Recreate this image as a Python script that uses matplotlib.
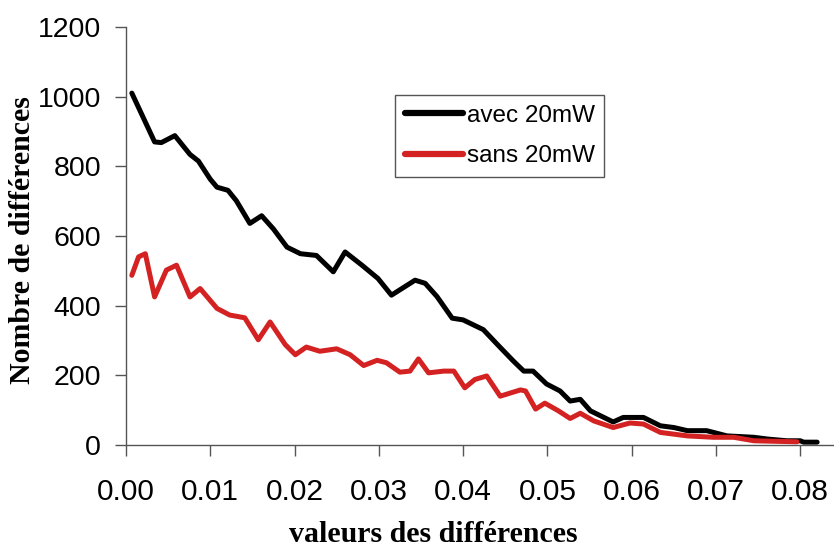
import matplotlib
matplotlib.use("Agg")
import matplotlib.pyplot as plt

# black curve: avec 20mW
x_avec = [0.0007, 0.0034, 0.0042, 0.0058, 0.0076, 0.0086, 0.0100, 0.0108, 0.0121, 0.0131,
          0.0147, 0.0161, 0.0175, 0.0191, 0.0207, 0.0226, 0.0246, 0.0260, 0.0280, 0.0299,
          0.0315, 0.0343, 0.0355, 0.0369, 0.0387, 0.0400, 0.0424, 0.0444, 0.0460, 0.0472,
          0.0483, 0.0499, 0.0515, 0.0527, 0.0539, 0.0551, 0.0567, 0.0578, 0.0590, 0.0614,
          0.0634, 0.0650, 0.0666, 0.0689, 0.0713, 0.0745, 0.0761, 0.0784, 0.0800, 0.0804,
          0.0820]
y_avec = [1010, 870, 868, 888, 834, 815, 763, 740, 731, 701,
          636, 658, 620, 568, 549, 544, 497, 554, 516, 478,
          430, 473, 464, 426, 364, 359, 331, 280, 240, 212,
          212, 175, 155, 126, 131, 98, 79, 66, 79, 79,
          55, 50, 41, 41, 26, 22, 17, 12, 12, 8,
          8]

# red curve: sans 20mW
x_sans = [0.0007, 0.0015, 0.0023, 0.0034, 0.0048, 0.0060, 0.0076, 0.0088, 0.0108, 0.0123,
          0.0141, 0.0157, 0.0171, 0.0189, 0.0201, 0.0214, 0.0230, 0.0250, 0.0266, 0.0282,
          0.0298, 0.0309, 0.0325, 0.0337, 0.0347, 0.0359, 0.0377, 0.0389, 0.0402, 0.0414,
          0.0428, 0.0444, 0.0468, 0.0474, 0.0486, 0.0497, 0.0513, 0.0527, 0.0539, 0.0555,
          0.0578, 0.0598, 0.0614, 0.0634, 0.0666, 0.0697, 0.0721, 0.0745, 0.0796]
y_sans = [487, 540, 549, 425, 502, 516, 425, 449, 392, 373,
          365, 302, 353, 288, 259, 281, 269, 276, 259, 228,
          243, 236, 209, 212, 247, 207, 212, 212, 164, 188,
          198, 140, 158, 155, 103, 120, 98, 76, 91, 69,
          50, 63, 60, 36, 26, 22, 22, 12, 9]

x_ticks = [0.00, 0.01, 0.02, 0.03, 0.04, 0.05, 0.06, 0.07, 0.08]
y_ticks = [0, 200, 400, 600, 800, 1000, 1200]

fig = plt.figure(figsize=(8.34, 5.5), dpi=100)
ax = fig.add_axes([0.151, 0.191, 0.849, 0.76])

ax.plot(x_avec, y_avec, color="black", lw=3.6, label="avec 20mW",
        solid_joinstyle="round", solid_capstyle="round")
ax.plot(x_sans, y_sans, color="#d42222", lw=3.6, label="sans 20mW",
        solid_joinstyle="round", solid_capstyle="round")

ax.set_xlim(0, 0.084)
ax.set_ylim(0, 1200)
ax.set_xticks(x_ticks)
ax.set_xticklabels(["%.2f" % v for v in x_ticks])
ax.set_yticks(y_ticks)

for s in ["top", "right"]:
    ax.spines[s].set_visible(False)
for s in ["left", "bottom"]:
    ax.spines[s].set_color("#555555")
    ax.spines[s].set_linewidth(1)

ax.tick_params(axis="both", direction="out", length=8, width=1, color="#555555")
ax.tick_params(axis="x", pad=16, labelsize=21.5)
ax.tick_params(axis="y", pad=10, labelsize=20.5)
for lab in ax.get_xticklabels() + ax.get_yticklabels():
    lab.set_family("Liberation Sans")

ax.set_xlabel("valeurs des différences", family="Liberation Serif", fontweight="bold",
              fontsize=21.5, va="center")
ax.xaxis.set_label_coords(0.434, -0.215)
ax.set_ylabel("Nombre de différences", family="Liberation Serif", fontweight="bold",
              fontsize=21.5, va="center")
ax.yaxis.set_label_coords(-0.146, 0.49)

leg = ax.legend(loc="upper left", bbox_to_anchor=(0.38, 0.837), borderaxespad=0,
                fancybox=False, handlelength=2.4, handletextpad=0.15, labelspacing=0.75,
                prop={"family": "Liberation Sans", "size": 17.5}, framealpha=1,
                borderpad=0.4)
leg.get_frame().set_edgecolor("#555555")
leg.get_frame().set_linewidth(1)
for h in leg.get_lines():
    h.set_linewidth(4.5)

fig.savefig("out.png", dpi=100)
